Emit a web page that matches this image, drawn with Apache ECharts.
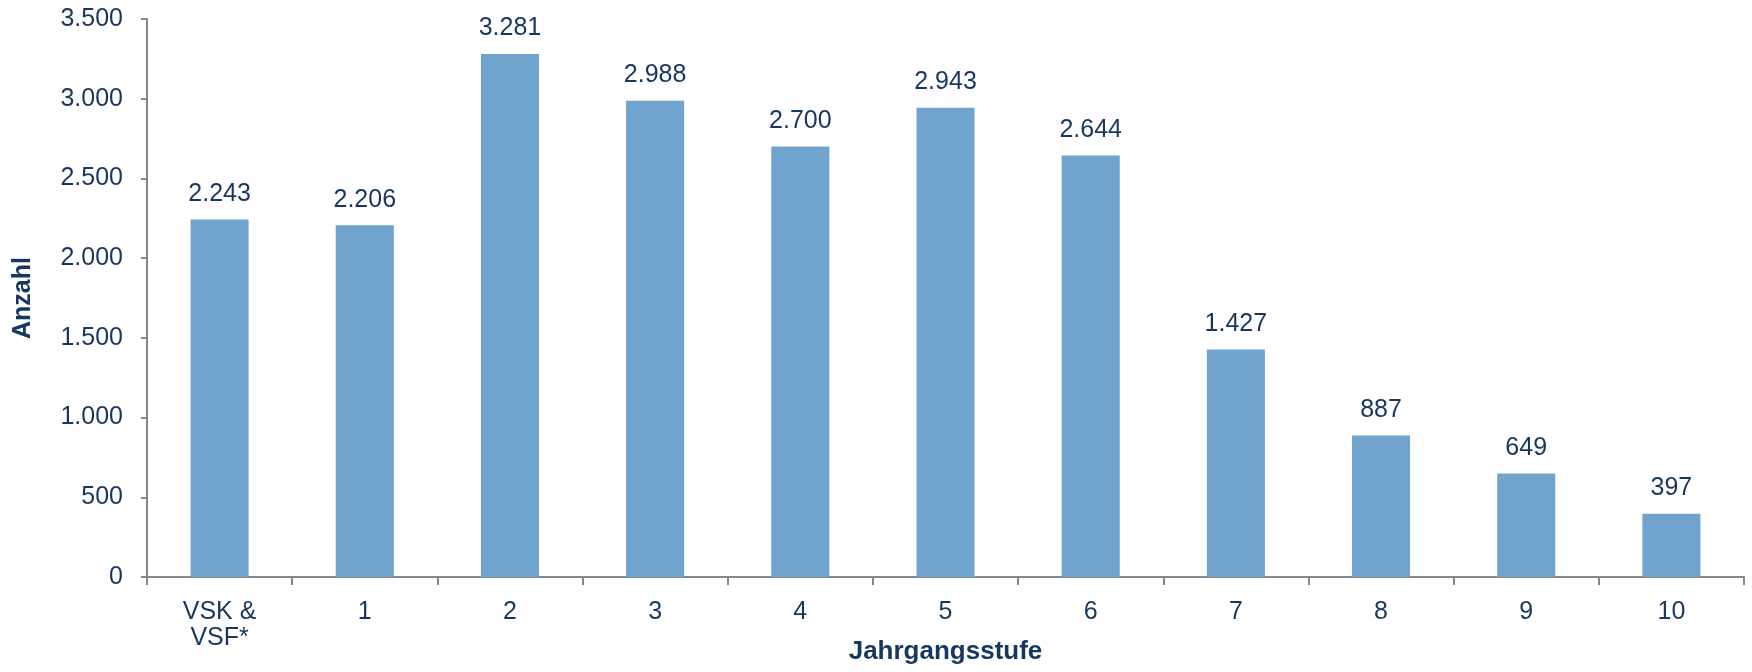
<!DOCTYPE html>
<html>
<head>
<meta charset="utf-8">
<script src="https://cdn.jsdelivr.net/npm/echarts@6/dist/echarts.min.js"></script>
<style>
html,body{margin:0;padding:0;background:#fff;}
#chart{width:1752px;height:672px;}
</style>
</head>
<body>
<div id="chart"></div>
<script>
const categories = ['VSK &\nVSF*', '1', '2', '3', '4', '5', '6', '7', '8', '9', '10'];
const values = [2243, 2206, 3281, 2988, 2700, 2943, 2644, 1427, 887, 649, 397];
const yTicks = { min: 0, max: 3500, interval: 500 };
const xTitle = 'Jahrgangsstufe';
const yTitle = 'Anzahl';

const textColor = '#17375E';
const font = '"Liberation Sans", Arial, sans-serif';
const fmt = v => String(v).replace(/\B(?=(\d{3})+(?!\d))/g, '.');

const chart = echarts.init(document.getElementById('chart'));
chart.setOption({
  animation: false,
  textStyle: { fontFamily: font, color: textColor },
  grid: { left: 147, right: 8, top: 19, bottom: 95, containLabel: false, outerBoundsMode: 'none' },
  xAxis: {
    type: 'category',
    data: categories,
    boundaryGap: true,
    name: xTitle,
    nameLocation: 'middle',
    nameGap: 62,
    nameMoveOverlap: false,
    nameTextStyle: { fontFamily: font, fontSize: 26, fontWeight: 'bold', color: textColor },
    axisLine: { lineStyle: { color: '#888888', width: 2 } },
    axisTick: { show: true, length: 8, lineStyle: { color: '#888888', width: 2 } },
    axisLabel: { fontFamily: font, fontSize: 25, color: textColor, margin: 22, lineHeight: 26, interval: 0 }
  },
  yAxis: {
    type: 'value',
    min: yTicks.min, max: yTicks.max, interval: yTicks.interval,
    name: yTitle,
    nameLocation: 'middle',
    nameGap: 111,
    nameMoveOverlap: false,
    nameRotate: 90,
    nameTextStyle: { fontFamily: font, fontSize: 25, fontWeight: 'bold', color: textColor },
    axisLine: { show: true, lineStyle: { color: '#888888', width: 2 } },
    axisTick: { show: true, length: 6, lineStyle: { color: '#888888', width: 2 } },
    splitLine: { show: false },
    axisLabel: { fontFamily: font, fontSize: 25, color: textColor, margin: 24, formatter: fmt }
  },
  series: [{
    type: 'bar',
    data: values,
    barWidth: '40%',
    itemStyle: { color: '#70A3CD' },
    label: {
      show: true, position: 'top', distance: 13,
      fontFamily: font, fontSize: 25, color: textColor,
      formatter: p => fmt(p.value)
    }
  }]
});
</script>
</body>
</html>
